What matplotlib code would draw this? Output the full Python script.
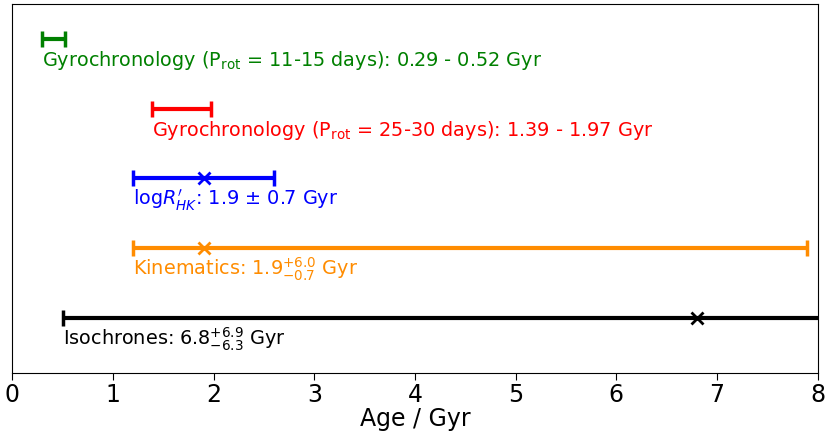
import matplotlib
matplotlib.use('Agg')
import matplotlib.pyplot as plt

# age estimates (Gyr): centre value, lower / upper error, or plain ranges
labels = [
    r'Gyrochronology (P$_{\rm rot}$ = 11-15 days): 0.29 - 0.52 Gyr',
    r'Gyrochronology (P$_{\rm rot}$ = 25-30 days): 1.39 - 1.97 Gyr',
    r'log$R^{\prime}_{HK}$: 1.9 $\pm$ 0.7 Gyr',
    r'Kinematics: 1.9$^{+6.0}_{-0.7}$ Gyr',
    r'Isochrones: 6.8$^{+6.9}_{-6.3}$ Gyr',
]
colors = ['green', 'red', 'blue', 'darkorange', 'black']
rows = [5, 4, 3, 2, 1]
lo = [0.29, 1.39, 1.2, 1.2, 0.5]
hi = [0.52, 1.97, 2.6, 7.9, 13.7]
best = [None, None, 1.9, 1.9, 6.8]

fig, ax = plt.subplots(figsize=(8.3, 4.38), dpi=100)

for y, a, b, c, col, lab in zip(rows, lo, hi, best, colors, labels):
    mid = (a + b) / 2 if c is None else c
    ax.errorbar(mid, y, xerr=[[mid - a], [b - mid]], fmt='none',
                ecolor=col, elinewidth=3, capsize=6, capthick=2.5)
    if c is not None:
        ax.plot(c, y, 'x', color=col, ms=9, mew=2)
    ax.text(a, y - 0.31, lab, color=col, fontsize=13.9, va='center', ha='left')

ax.set_xlim(0, 8)
ax.set_ylim(0.2, 5.5)
ax.set_yticks([])
ax.tick_params(axis='x', labelsize=17, length=5, pad=2)
ax.set_xlabel('Age / Gyr', fontsize=17, labelpad=0)

plt.subplots_adjust(left=0.015, right=0.985, top=0.99, bottom=0.148)
plt.savefig('out.png', dpi=100)
